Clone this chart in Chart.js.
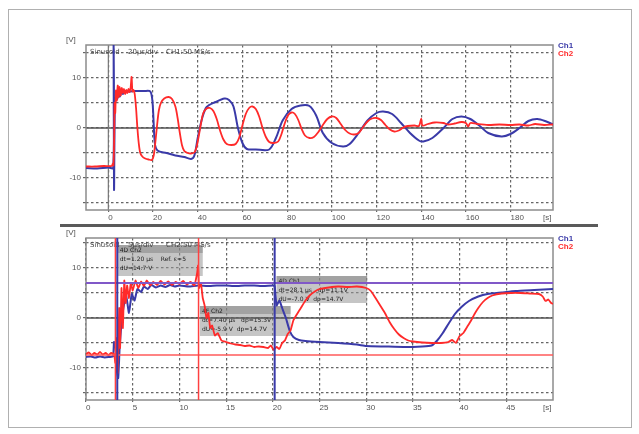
<!DOCTYPE html>
<html>
<head>
<meta charset="utf-8">
<script src="https://cdn.jsdelivr.net/npm/chart.js@4.4.1/dist/chart.umd.min.js"></script>
<style>
  body { margin: 0; background: #fff; }
  #frame { position: absolute; left: 8px; top: 9px; width: 622px; height: 417px; border: 1px solid #b0b0b0; }
  #sep { position: absolute; left: 60px; top: 224px; width: 538px; height: 3px; background: #5a5a5a; }
  canvas { position: absolute; left: 0; }
  #chartTop { top: 0; }
  #chartBottom { top: 227px; }
</style>
</head>
<body>
<div id="frame"></div>
<div id="sep"></div>
<canvas id="chartTop" width="639" height="224"></canvas>
<canvas id="chartBottom" width="639" height="207"></canvas>
<script>
Chart.defaults.font.family = "'Liberation Sans', Arial, sans-serif";
Chart.defaults.font.size = 8;
Chart.defaults.color = '#555';

const BLUE = '#3a3aa8';
const RED = '#ff2a2a';

// ---- top chart (20 µs/div) ----
const topXTicks = [0, 20, 40, 60, 80, 100, 120, 140, 160, 180];
const topYTicks = [-15, -10, -5, 0, 5, 10, 15];
const yLabelled = [-10, 0, 10];

const topCh1Time = [
  -10, -5, 0, 2.2, 2.35, 2.55, 2.9, 3.4, 4.0, 4.6,
  5.2, 5.8, 6.5, 7.5, 9, 12, 16, 18.8, 19.8, 20.8,
  22, 26, 30, 34, 37, 38.5, 40, 42, 44, 48,
  52, 54, 56, 58, 60, 62, 66, 72, 75, 78,
  82, 86, 90, 93, 96, 100, 105, 108, 112, 116,
  120, 123, 127, 131, 135, 139, 141, 145, 150, 154,
  158, 162, 166, 170, 176, 180, 184, 188, 192, 196,
  199];
const topCh1 = [
  -8.0, -8.1, -7.9, -8.0, 17, -12.3, 4, 6.2, 5.8, 7.0,
  6.3, 7.3, 6.8, 7.4, 7.3, 7.4, 7.4, 7.3, 5, -3,
  -4.5, -5, -5.5, -5.8, -6.2, -5.5, -2, 2, 4.2, 5.2,
  5.9, 5.6, 4.3, 0, -3, -4.2, -4.3, -4.3, -2, 1.5,
  3.8, 4.5, 4.4, 2.5, -1, -3, -3.7, -3.2, -1, 1.5,
  3, 3.3, 2.8, 1, -1, -2.5, -2.7, -2, 0, 1.8,
  2.3, 1.8, 0.5, -1, -1.7, -1.2, 0, 1.4, 1.8, 1.3,
  0.7];

const topCh2Time = [
  -10, -6, -2, 1.5, 2.0, 2.3, 2.6, 2.8, 3.1, 3.4,
  3.8, 4.2, 4.6, 5.0, 5.5, 6, 6.5, 7, 7.5, 8,
  8.5, 9, 9.5, 10, 10.4, 10.8, 11.3, 11.8, 12.4, 13,
  13.6, 14.3, 15.2, 16.5, 18, 19.5, 20.3, 21, 21.8, 22.6,
  23.5, 25, 27, 28.5, 30, 31, 32, 33, 34, 35.5,
  37, 38.5, 39.5, 40.5, 41.5, 42.5, 44, 45.5, 47, 48.5,
  50, 51.5, 53, 55, 57, 58.5, 60, 61.5, 63, 64.5,
  66, 67.5, 69, 70.5, 72, 74, 76, 77.5, 79, 80.5,
  82, 83.5, 85, 86.5, 88, 90, 92, 94, 96, 98,
  100, 102, 104, 106, 108, 110, 112, 114, 116, 118,
  120, 122, 124, 126, 128, 130, 132, 134, 137, 139,
  140, 140.6, 143, 146, 150, 152, 155, 158, 160, 161,
  162, 165, 170, 175, 180, 184, 188, 191, 195, 199];
const topCh2 = [
  -7.7, -7.7, -7.6, -7.6, -7.1, -7.5, -2, 5, 3, 7.5,
  5.5, 8.5, 6.2, 8.2, 6.5, 8.0, 7.0, 7.8, 6.8, 7.6,
  7.0, 7.8, 7.2, 8.2, 10.2, 7.3, 7.6, 6.8, 4, 0,
  -3, -5, -5.7, -6.1, -6.3, -6.4, -5.5, -3, 0.5, 3.5,
  5, 5.9, 6.2, 5.8, 4.3, 2, -1, -3.5, -4.6, -5,
  -5.1, -4.9, -3.8, -1.5, 1, 3, 3.9, 4, 3.4, 1.8,
  -0.5, -2.3, -3.2, -3.4, -3.2, -2, 0.5, 2.8, 4.0, 4.3,
  3.8, 2.3, 0, -1.8, -2.8, -3.0, -2.7, -1.2, 1, 2.6,
  3.1, 2.8, 1.6, -0.2, -1.5, -2, -1.8, -0.8, 0.6, 1.8,
  2.3, 2.0, 0.8, -0.4, -1.1, -1.3, -1.0, 0.2, 1.3, 1.9,
  2.0, 1.6, 0.6, -0.3, -0.7, -0.5, 0.1, 0.4, 0.5, 0.4,
  1.8, 0.5, 0.8, 1.1, 1.0, 0.7, 0.9, 1.2, 1.0, 0.3,
  1.0, 0.8, 0.6, 0.7, 0.6, 0.7, 0.5, 0.8, 0.6, 0.7];

// ---- bottom chart (5 µs/div) ----
const botXTicks = [0, 5, 10, 15, 20, 25, 30, 35, 40, 45];
const botYTicks = [-15, -10, -5, 0, 5, 10, 15];

const botCh1Time = [
  0, 0.5, 1, 1.5, 2, 2.5, 2.9, 3.0, 3.15, 3.3,
  3.45, 3.6, 3.8, 4.0, 4.3, 4.6, 4.9, 5.2, 5.5, 5.9,
  6.2, 6.6, 7, 7.5, 8, 8.5, 9, 9.5, 10, 11,
  12, 13, 14, 15, 16, 17, 18, 19, 20, 20.2,
  20.4, 20.7, 21, 21.4, 21.8, 22.2, 22.8, 23.5, 25, 27,
  29, 30, 32, 34, 36, 37, 37.6, 38.2, 38.8, 39.5,
  40.2, 41, 42, 43, 44.5, 46, 48, 50];
const botCh1 = [
  -7.8, -7.7, -7.9, -7.7, -7.9, -7.8, -7.7, -4.8, -5, -10.5,
  -12, -6, -1, 2, 4.5, 1.0, 4.8, 3.5, 5.8, 5.2,
  6.3, 5.8, 6.6, 6.1, 6.5, 6.2, 6.6, 6.3, 6.5, 6.3,
  6.5, 6.4, 6.5, 6.5, 6.4, 6.5, 6.5, 6.4, 6.5, 6.4,
  2.5, 3.5, 2, 0, -2.5, -3.8, -4.4, -4.6, -4.8, -5,
  -5.3, -5.6, -5.7, -5.8, -5.7, -5.5, -4.5, -3, -1.2, 0.8,
  2.2, 3.4, 4.3, 4.8, 5.1, 5.4, 5.6, 5.8];

const botCh2Time = [
  0, 0.3, 0.6, 0.9, 1.2, 1.5, 1.8, 2.1, 2.4, 2.7,
  3.0, 3.15, 3.3, 3.4, 3.55, 3.65, 3.8, 3.95, 4.1, 4.25,
  4.4, 4.6, 4.8, 5.0, 5.3, 5.6, 5.9, 6.2, 6.5, 6.9,
  7.2, 7.6, 8.0, 8.4, 8.8, 9.2, 9.6, 10, 10.4, 10.8,
  11.2, 11.6, 11.9, 12.0, 12.1, 12.3, 12.5, 12.7, 12.9, 13.1,
  13.3, 13.5, 13.8, 14.1, 14.5, 15, 15.5, 16, 16.5, 17,
  17.5, 18, 18.5, 19, 19.5, 19.8, 20.1, 20.4, 20.7, 21,
  21.3, 21.6, 21.9, 22.2, 22.6, 23, 23.5, 24, 24.5, 25,
  26, 27, 28, 29, 30, 30.5, 31, 31.5, 32, 32.5,
  33, 33.5, 34, 34.5, 35, 36, 37, 38, 38.8, 39.2,
  39.6, 40, 40.4, 40.8, 41.2, 41.6, 42, 42.5, 43, 43.5,
  44.5, 45.5, 46.5, 47.5, 48.5, 48.9, 49.2, 49.5, 49.8, 50];
const botCh2 = [
  -7.2, -6.9, -7.4, -7.0, -7.3, -6.8, -7.3, -7.0, -7.4, -7.0,
  -7.2, -9, -4, -11, 2, -6, 6, -2, 7.5, 3,
  6.5, 4, 7, 5.5, 7.5, 6, 7.3, 6.4, 7.5, 6.5,
  7.2, 6.6, 7.4, 6.7, 7.3, 6.6, 7.2, 6.8, 7.4, 6.7,
  7.2, 6.5, 9, 10.5, 6, 7, 4, 2.5, 0, 1,
  -2, -1.5, -3.5, -3, -4.5, -4.8, -5.1, -5.3, -5.4, -5.6,
  -5.5, -5.8, -5.7, -5.8, -6.0, -5.5, -6.4, -5.8, -6.2, -5,
  -4.5, -3.2, -2.5, -0.5, 0.8, 2, 3.5, 4.6, 5.3, 5.8,
  6.1, 6.3, 6.2, 6.3, 6.0, 5.4, 4.0, 2.5, 1.0, -0.8,
  -2.2, -3.3, -4.0, -4.5, -4.7, -4.9, -5.0, -5.0, -4.8, -4.4,
  -5, -3.6, -3.0, -1.8, -0.6, 0.8, 2, 3.2, 4.0, 4.5,
  4.9, 5.0, 5.0, 4.9, 4.8, 4.3, 3.4, 3.7, 3.0, 2.8];

// cursors of the bottom chart (time in µs, level in V)
const botRedCursorTimes = [3.15, 12.05];
const botBlueCursorTimes = [3.35, 20.2];
const botLevelCursors = [7.0, -7.4];

const botBoxes = [
  { t0: 3.4, t1: 12.5, v0: 8.4, v1: 14.6, lines: ['4D Ch2', 'dt=1.20 µs    Ref. ε=5', 'dU=14.7 V'] },
  { t0: 12.2, t1: 21.9, v0: -3.6, v1: 2.4, lines: ['4F Ch2', 'dt=7.40 µs   dp=15.3V', 'dU=-5.9 V  dp=14.7V'] },
  { t0: 20.4, t1: 30.1, v0: 3.0, v1: 8.4, lines: ['4D Ch1', 'dt=28.1 µs   dp=11.1V', 'dU=-7.0 V  dp=14.7V'] }
];

const pts = (ts, vs) => ts.map((t, i) => ({ x: t, y: vs[i] }));

const scopeDecor = {
    id: 'scopeDecor',
    beforeDatasetsDraw(chart, args, o) {
        const { ctx, chartArea: a, scales: { x, y } } = chart;
        ctx.save();
        // measurement boxes
        (o.boxes || []).forEach(b => {
            const x1 = x.getPixelForValue(b.t0), x2 = x.getPixelForValue(b.t1);
            const y1 = y.getPixelForValue(b.v1), y2 = y.getPixelForValue(b.v0);
            ctx.fillStyle = 'rgba(150,150,150,0.55)';
            ctx.fillRect(x1, y1, x2 - x1, y2 - y1);
            ctx.fillStyle = 'rgba(120,120,120,0.45)';
            ctx.fillRect(x1, y1, x2 - x1, 8);
            ctx.fillStyle = '#222';
            ctx.font = "6px 'DejaVu Sans'";
            b.lines.forEach((s, i) => ctx.fillText(s, x1 + 2, y1 + 7 + i * 9));
        });
        // zero lines
        ctx.strokeStyle = '#555';
        ctx.lineWidth = 1.6;
        const y0 = y.getPixelForValue(0);
        ctx.beginPath(); ctx.moveTo(a.left, y0); ctx.lineTo(a.right, y0); ctx.stroke();
        if (o.zeroX) {
            const x0 = x.getPixelForValue(0);
            ctx.strokeStyle = '#777';
            ctx.lineWidth = 1.2;
            ctx.beginPath(); ctx.moveTo(x0, a.top); ctx.lineTo(x0, a.bottom); ctx.stroke();
        }
        // plot frame
        ctx.strokeStyle = '#8c8c8c';
        ctx.lineWidth = 1.5;
        ctx.strokeRect(a.left, a.top, a.width, a.height);
        // header text
        ctx.fillStyle = '#444';
        ctx.font = "7px 'DejaVu Sans'";
        o.header.forEach((s, i) => ctx.fillText(s, a.left + 4 + i * 38, a.top + 9));
        ctx.restore();
    },
    afterDatasetsDraw(chart, args, o) {
        const { ctx, chartArea: a, scales: { x, y } } = chart;
        ctx.save();
        (o.levels || []).forEach((v, i) => {
            const yy = y.getPixelForValue(v);
            ctx.strokeStyle = i === 0 ? '#8058c8' : '#ff5a5a';
            ctx.lineWidth = i === 0 ? 2 : 1.3;
            ctx.beginPath(); ctx.moveTo(a.left, yy); ctx.lineTo(a.right, yy); ctx.stroke();
        });
        (o.redCursors || []).forEach(t => {
            const xx = x.getPixelForValue(t);
            ctx.strokeStyle = '#ff4040'; ctx.lineWidth = 1.5;
            ctx.beginPath(); ctx.moveTo(xx, a.top); ctx.lineTo(xx, a.bottom); ctx.stroke();
        });
        (o.blueCursors || []).forEach(t => {
            const xx = x.getPixelForValue(t);
            ctx.strokeStyle = BLUE; ctx.lineWidth = 2;
            ctx.beginPath(); ctx.moveTo(xx, a.top); ctx.lineTo(xx, a.bottom); ctx.stroke();
        });
        ctx.restore();
    },
    afterDraw(chart) {
        const { ctx, chartArea: a } = chart;
        ctx.save();
        ctx.font = "8px 'Liberation Sans'";
        ctx.fillStyle = '#555';
        ctx.fillText('[V]', a.left - 20, a.top - 3);
        ctx.fillText('[s]', a.right - 10, a.bottom + 10);
        ctx.font = "bold 8px 'Liberation Sans'";
        ctx.fillStyle = BLUE;
        ctx.fillText('Ch1', a.right + 5, a.top + 3);
        ctx.fillStyle = RED;
        ctx.fillText('Ch2', a.right + 5, a.top + 11);
        ctx.restore();
    }
};

function scopeChart(id, cfg) {
    const ctx = document.getElementById(id).getContext('2d');
    return new Chart(ctx, {
        type: 'line',
        data: {
            datasets: [
                { label: 'Ch2', data: pts(cfg.t2, cfg.v2), borderColor: RED, borderWidth: 1.8, pointRadius: 0, tension: cfg.tension },
                { label: 'Ch1', data: pts(cfg.t1, cfg.v1), borderColor: BLUE, borderWidth: 2, pointRadius: 0, tension: cfg.tension }
            ]
        },
        options: {
            responsive: false,
            animation: false,
            layout: { padding: cfg.padding },
            plugins: {
                legend: { display: false },
                tooltip: { enabled: false },
                scopeDecor: cfg.decor
            },
            scales: {
                x: {
                    type: 'linear',
                    min: cfg.xMin,
                    max: cfg.xMax,
                    afterBuildTicks: s => { s.ticks = cfg.xTicks.map(v => ({ value: v })); },
                    afterFit: s => { s.height = 14; },
                    grid: { color: '#666', lineWidth: 1.2, tickLength: 2, tickColor: '#666' },
                    border: { display: false, dash: [2.5, 2.5] },
                    ticks: { align: 'start', padding: 1, maxRotation: 0, autoSkip: false }
                },
                y: {
                    min: cfg.yMin,
                    max: cfg.yMax,
                    afterBuildTicks: s => { s.ticks = cfg.yTicks.map(v => ({ value: v })); },
                    afterFit: s => { s.width = 22; },
                    grid: { color: '#666', lineWidth: 1.2, tickLength: 3, tickColor: '#666' },
                    border: { display: false, dash: [2.5, 2.5] },
                    ticks: { padding: 2, callback: v => yLabelled.includes(v) ? String(v) : '' }
                }
            }
        },
        plugins: [scopeDecor]
    });
}

scopeChart('chartTop', {
    t1: topCh1Time, v1: topCh1, t2: topCh2Time, v2: topCh2,
    xMin: -10, xMax: 199, yMin: -16.4, yMax: 16.6,
    xTicks: topXTicks, yTicks: topYTicks, tension: 0.3,
    padding: { left: 64, right: 86, top: 45, bottom: 0 },
    decor: { zeroX: true, header: ['Sinusoid', '20µs/div', 'CH1:50 MS/s'] }
});

scopeChart('chartBottom', {
    t1: botCh1Time, v1: botCh1, t2: botCh2Time, v2: botCh2,
    xMin: 0, xMax: 50, yMin: -16.4, yMax: 16,
    xTicks: botXTicks, yTicks: botYTicks, tension: 0.15,
    padding: { left: 64, right: 86, top: 11, bottom: 20 },
    decor: {
        zeroX: false, header: ['Sinusoid', '5µs/div', 'CH2:50 MS/s'],
        boxes: botBoxes, levels: botLevelCursors,
        redCursors: botRedCursorTimes, blueCursors: botBlueCursorTimes
    }
});
</script>
</body>
</html>
